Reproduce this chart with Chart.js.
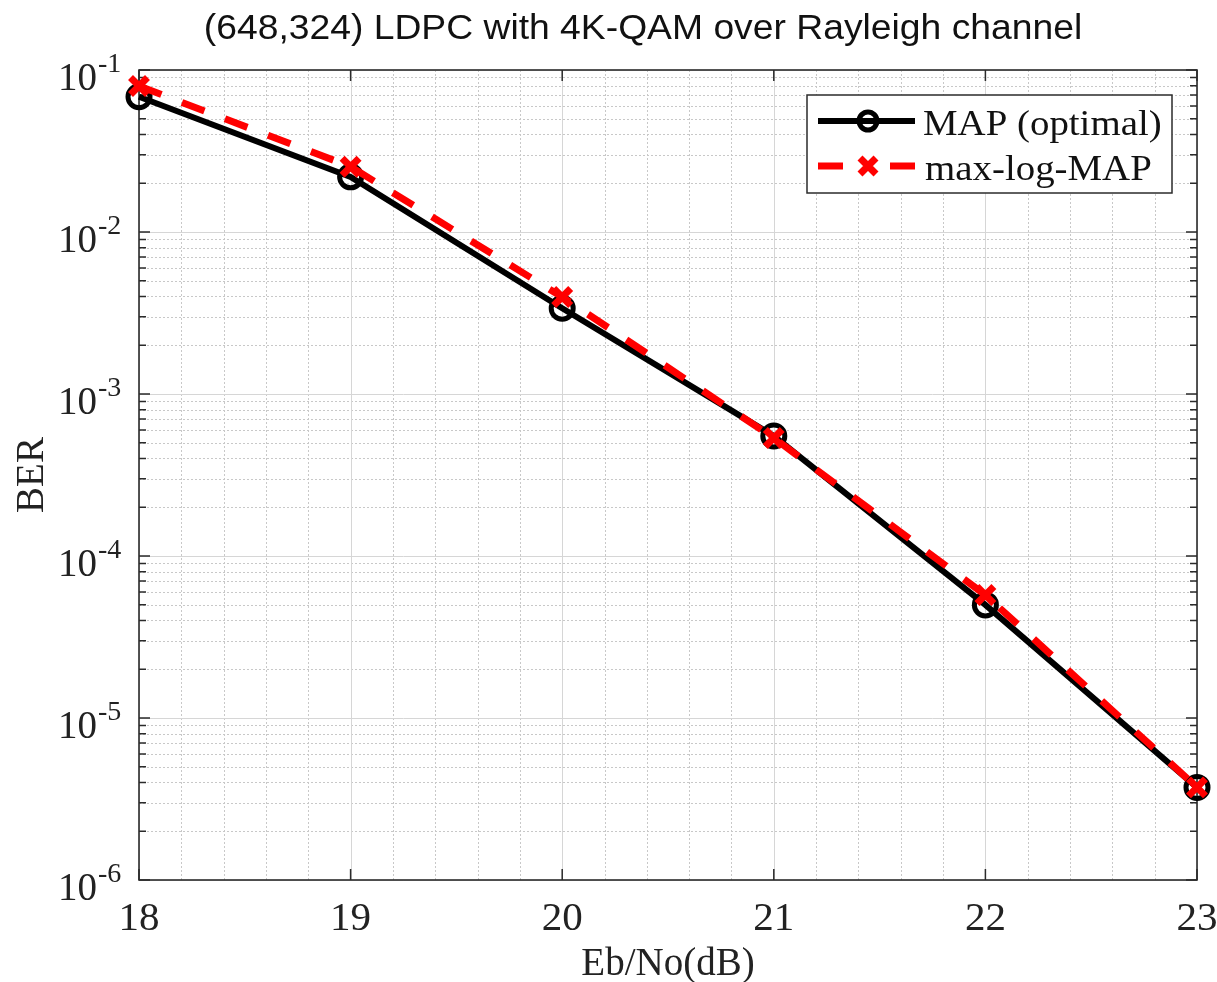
<!DOCTYPE html>
<html>
<head>
<meta charset="utf-8">
<script src="https://cdn.jsdelivr.net/npm/chart.js@4.4.1/dist/chart.umd.min.js"></script>
<style>
  html, body { margin: 0; padding: 0; background: #ffffff; }
  canvas { display: block; }
</style>
</head>
<body>
<canvas id="grafico" width="1217" height="982"></canvas>
<script>
// Eb/No em dB e BER medida para cada decodificador
let ebNo = [18, 19, 20, 21, 22, 23];
let berMap = [6.84e-2, 2.19e-2, 3.38e-3, 5.5e-4, 4.99e-5, 3.73e-6];
let berMaxLog = [7.96e-2, 2.53e-2, 3.97e-3, 5.35e-4, 5.74e-5, 3.73e-6];

// rótulos dos eixos
let xTicks = [18, 19, 20, 21, 22, 23];
let yExpoentes = [-1, -2, -3, -4, -5, -6];

let titulo = "(648,324) LDPC with 4K-QAM over Rayleigh channel";
let nomes = ["MAP (optimal)", "max-log-MAP"];

const SERIF = "'Liberation Serif', 'Times New Roman', serif";
const SANS = "'Liberation Sans', Arial, sans-serif";

function pontos(ys) {
  return ebNo.map((x, i) => ({ x: x, y: ys[i] }));
}

// texto esticado na horizontal (o original foi exportado assim)
function texto(ctx, str, x, y, font, align, sx) {
  ctx.save();
  ctx.font = font;
  ctx.textBaseline = "alphabetic";
  ctx.textAlign = align;
  ctx.translate(x, y);
  ctx.scale(sx || 1, 1);
  ctx.fillText(str, 0, 0);
  ctx.restore();
}

// grade, moldura, marcas e rótulos estilo MATLAB
const moldura = {
  id: "moldura",
  beforeDatasetsDraw(chart) {
    const ctx = chart.ctx;
    const a = chart.chartArea;
    const xs = chart.scales.x;
    const ys = chart.scales.y;

    ctx.save();
    // grade menor pontilhada
    ctx.strokeStyle = "#c8c8c8";
    ctx.lineWidth = 1;
    ctx.setLineDash([2, 2]);
    ctx.beginPath();
    for (let v = 18; v < 23; v++) {
      for (let k = 1; k < 5; k++) {
        const px = Math.round(xs.getPixelForValue(v + k * 0.2)) + 0.5;
        ctx.moveTo(px, a.top);
        ctx.lineTo(px, a.bottom);
      }
    }
    yExpoentes.forEach(e => {
      if (e === -1) return;
      for (let m = 2; m <= 9; m++) {
        const py = Math.round(ys.getPixelForValue(m * Math.pow(10, e))) + 0.5;
        ctx.moveTo(a.left, py);
        ctx.lineTo(a.right, py);
      }
    });
    ctx.stroke();

    // grade maior
    ctx.setLineDash([]);
    ctx.strokeStyle = "#d6d6d6";
    ctx.beginPath();
    xTicks.forEach(v => {
      const px = Math.round(xs.getPixelForValue(v)) + 0.5;
      ctx.moveTo(px, a.top);
      ctx.lineTo(px, a.bottom);
    });
    yExpoentes.forEach(e => {
      const py = Math.round(ys.getPixelForValue(Math.pow(10, e))) + 0.5;
      ctx.moveTo(a.left, py);
      ctx.lineTo(a.right, py);
    });
    ctx.stroke();

    // marcas internas
    ctx.strokeStyle = "#2b2b2b";
    ctx.lineWidth = 1.5;
    ctx.beginPath();
    xTicks.forEach(v => {
      const px = xs.getPixelForValue(v);
      ctx.moveTo(px, a.bottom);
      ctx.lineTo(px, a.bottom - 11);
      ctx.moveTo(px, a.top);
      ctx.lineTo(px, a.top + 11);
    });
    yExpoentes.forEach(e => {
      for (let m = 1; m <= 9; m++) {
        if (e === -1 && m > 1) continue;
        const py = ys.getPixelForValue(m * Math.pow(10, e));
        const len = m === 1 ? 11 : 7;
        ctx.moveTo(a.left, py);
        ctx.lineTo(a.left + len, py);
        ctx.moveTo(a.right, py);
        ctx.lineTo(a.right - len, py);
      }
    });
    ctx.stroke();

    // caixa dos eixos
    ctx.lineWidth = 1.6;
    ctx.strokeRect(a.left, a.top, a.right - a.left, a.bottom - a.top);

    // rótulos
    ctx.fillStyle = "#222222";
    xTicks.forEach(v => {
      texto(ctx, String(v), xs.getPixelForValue(v), a.bottom + 50, "41px " + SERIF, "center");
    });
    yExpoentes.forEach(e => {
      const py = ys.getPixelForValue(Math.pow(10, e));
      texto(ctx, "10", 97, py + 20, "39px " + SERIF, "right");
      texto(ctx, String(e), 98, py + 2, "28px " + SERIF, "left");
    });

    // títulos
    texto(ctx, "Eb/No(dB)", (a.left + a.right) / 2, 975, "39px " + SERIF, "center");
    ctx.save();
    ctx.translate(43, (a.top + a.bottom) / 2);
    ctx.rotate(-Math.PI / 2);
    texto(ctx, "BER", 0, 0, "39px " + SERIF, "center");
    ctx.restore();

    ctx.fillStyle = "#111111";
    texto(ctx, titulo, 643, 39, "35px " + SANS, "center", 1.065);
    ctx.restore();
  },
  afterDraw(chart) {
    // legenda dentro da área do gráfico
    const ctx = chart.ctx;
    ctx.save();
    ctx.fillStyle = "#ffffff";
    ctx.fillRect(807, 95, 365, 98);
    ctx.strokeStyle = "#2b2b2b";
    ctx.lineWidth = 1.5;
    ctx.strokeRect(807, 95, 365, 98);

    // linha preta com círculo
    ctx.strokeStyle = "#000000";
    ctx.lineWidth = 6;
    ctx.beginPath();
    ctx.moveTo(818, 121);
    ctx.lineTo(915, 121);
    ctx.stroke();
    ctx.lineWidth = 5;
    ctx.beginPath();
    ctx.arc(868, 121, 9, 0, Math.PI * 2);
    ctx.stroke();

    // tracejado vermelho com x
    ctx.strokeStyle = "#ff0000";
    ctx.lineWidth = 7;
    ctx.beginPath();
    ctx.moveTo(818, 166);
    ctx.lineTo(843, 166);
    ctx.moveTo(890, 166);
    ctx.lineTo(915, 166);
    ctx.moveTo(860, 158);
    ctx.lineTo(876, 174);
    ctx.moveTo(876, 158);
    ctx.lineTo(860, 174);
    ctx.stroke();

    ctx.fillStyle = "#111111";
    texto(ctx, nomes[0], 923, 135, "36px " + SERIF, "left", 1.08);
    texto(ctx, nomes[1], 925, 180, "36px " + SERIF, "left", 1.08);
    ctx.restore();
  }
};

new Chart(document.getElementById("grafico"), {
  type: "line",
  data: {
    datasets: [
      {
        label: nomes[1],
        data: pontos(berMaxLog),
        order: 0,
        borderColor: "#ff0000",
        borderWidth: 7,
        borderDash: [24, 22],
        pointStyle: "crossRot",
        pointRadius: 12,
        pointBorderWidth: 7,
        pointBorderColor: "#ff0000",
        pointBackgroundColor: "#ff0000",
        tension: 0,
        clip: false
      },
      {
        label: nomes[0],
        data: pontos(berMap),
        order: 1,
        borderColor: "#000000",
        borderWidth: 6,
        pointStyle: "circle",
        pointRadius: 11,
        pointBorderWidth: 5,
        pointBorderColor: "#000000",
        pointBackgroundColor: "rgba(0,0,0,0)",
        tension: 0,
        clip: false
      }
    ]
  },
  options: {
    responsive: false,
    animation: false,
    devicePixelRatio: 1,
    layout: {
      padding: { left: 139, top: 70, right: 20, bottom: 102 }
    },
    plugins: {
      legend: { display: false },
      title: { display: false },
      tooltip: { enabled: false }
    },
    scales: {
      x: { type: "linear", min: 18, max: 23, display: false },
      y: { type: "logarithmic", min: 1e-6, max: 1e-1, display: false }
    }
  },
  plugins: [moldura]
});
</script>
</body>
</html>
